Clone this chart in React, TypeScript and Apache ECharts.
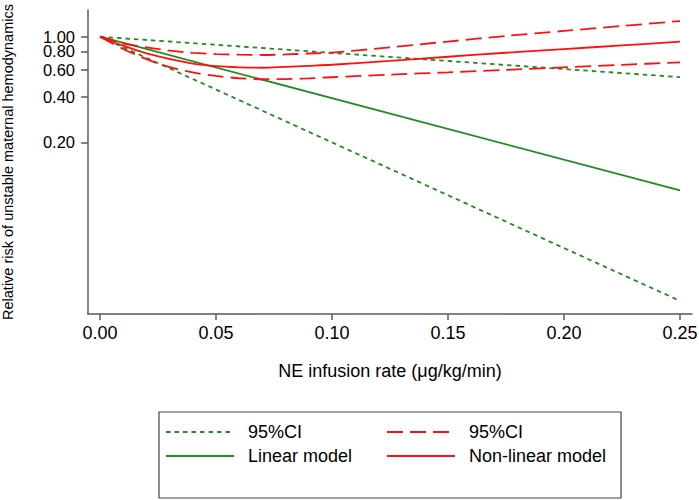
import React, { useEffect, useRef } from "react";
import * as echarts from "echarts";

// ---- data ----
const xTicks = [0, 0.05, 0.1, 0.15, 0.2, 0.25];
const yTicksMain = [0.2, 0.4, 0.6, 1.0];
const yTicksExtra = [0.8];

// linear model (straight on the log scale)
const linX = [0, 0.25];
const linRR = [1, 0.096];
const linLower = [1, 0.0178];
const linUpper = [1, 0.54];

// non-linear model
const nlX = [0, 0.01, 0.02, 0.03, 0.04, 0.05, 0.06, 0.07, 0.08, 0.09, 0.1, 0.125, 0.15, 0.175, 0.2, 0.225, 0.25];
const nlRR = [1, 0.872, 0.775, 0.712, 0.663, 0.638, 0.627, 0.623, 0.631, 0.641, 0.652, 0.692, 0.737, 0.783, 0.828, 0.876, 0.927];
const nlUpper = [1, 0.904, 0.85, 0.81, 0.781, 0.768, 0.76, 0.757, 0.763, 0.774, 0.785, 0.851, 0.929, 1.012, 1.092, 1.178, 1.27];
const nlLower = [1, 0.83, 0.71, 0.628, 0.58, 0.55, 0.531, 0.523, 0.524, 0.53, 0.539, 0.561, 0.581, 0.603, 0.627, 0.651, 0.677];

const yMinValue = 0.01458;
const yMaxValue = 1.503;
const xMin = -0.00517;
const xMax = 0.25517;

const GREEN = "#228b22";
const RED = "#ff1010";
const AXIS = "#5a5a5a";
const FONT = "Liberation Sans, Arial, Helvetica, sans-serif";

const toPts = (xs: number[], ys: number[]) => xs.map((x, i) => [x, Math.log10(ys[i])]);

export default function App() {
  const ref = useRef<HTMLDivElement>(null);
  useEffect(() => {
    if (!ref.current) return;
    const chart = echarts.init(ref.current, null, { renderer: "svg" });
    const lineSeries = (name: string, xs: number[], ys: number[], color: string, type: any, smooth: boolean) => ({
      name,
      type: "line",
      data: toPts(xs, ys),
      symbol: "none",
      smooth: smooth ? 0.3 : false,
      lineStyle: { color, width: 1.8, type },
      itemStyle: { color },
      silent: true,
    });
    const legendBase = {
      orient: "vertical",
      top: 423,
      itemWidth: 68,
      itemHeight: 18,
      itemGap: 6,
      padding: 0,
      selectedMode: false,
      itemStyle: { opacity: 0 },
      formatter: (n: string) => (n.indexOf("95%CI") === 0 ? "95%CI" : n),
      textStyle: { fontSize: 18, fontFamily: FONT, color: "#000", padding: [0, 0, 0, 9] },
    };
    const yLabelBase = {
      margin: 13,
      fontSize: 16.5,
      lineHeight: 13,
      fontFamily: FONT,
      color: "#000",
      hideOverlap: false,
      formatter: (v: number) => Math.pow(10, v).toFixed(2),
    };
    const mainLog = yTicksMain.map((v) => Math.log10(v));
    const extraLog = yTicksExtra.map((v) => Math.log10(v));
    chart.setOption({
      animation: false,
      backgroundColor: "#fff",
      grid: { left: 88, right: 7, top: 10, bottom: 186, containLabel: false, outerBoundsMode: "none" },
      xAxis: {
        type: "value",
        min: xMin,
        max: xMax,
        name: "NE infusion rate (μg/kg/min)",
        nameLocation: "middle",
        nameGap: 48,
        nameTextStyle: { fontSize: 18, fontFamily: FONT, color: "#000" },
        axisLine: { show: true, onZero: false, lineStyle: { color: AXIS, width: 1.5 } },
        axisTick: { show: true, length: 6, customValues: xTicks, lineStyle: { color: AXIS, width: 1.5 } },
        axisLabel: {
          customValues: xTicks,
          margin: 10,
          fontSize: 18,
          fontFamily: FONT,
          color: "#000",
          hideOverlap: false,
          formatter: (v: number) => v.toFixed(2),
        },
        splitLine: { show: false },
      },
      yAxis: [
        {
          type: "value",
          position: "left",
          min: Math.log10(yMinValue),
          max: Math.log10(yMaxValue),
          name: "Relative risk of unstable maternal hemodynamics",
          nameLocation: "middle",
          nameGap: 73,
          nameTextStyle: { fontSize: 14.5, fontFamily: FONT, color: "#000" },
          axisLine: { show: true, onZero: false, lineStyle: { color: AXIS, width: 1.5 } },
          axisTick: { show: true, length: 7, customValues: mainLog, lineStyle: { color: AXIS, width: 1.5 } },
          axisLabel: { ...yLabelBase, customValues: mainLog },
          splitLine: { show: false },
        },
        {
          type: "value",
          position: "left",
          offset: 0,
          min: Math.log10(yMinValue),
          max: Math.log10(yMaxValue),
          axisLine: { show: false, onZero: false },
          axisTick: { show: true, length: 7, customValues: extraLog, lineStyle: { color: AXIS, width: 1.5 } },
          axisLabel: { ...yLabelBase, customValues: extraLog },
          splitLine: { show: false },
        },
      ],
      legend: [
        { ...legendBase, left: 165, data: ["95%CI (linear)", "Linear model"] },
        { ...legendBase, left: 386, data: ["95%CI (non-linear)", "Non-linear model"] },
      ],
      graphic: [
        {
          type: "rect",
          shape: { x: 159, y: 412, width: 462, height: 86 },
          style: { fill: "none", stroke: "#444", lineWidth: 1.2 },
          silent: true,
        },
      ],
      series: [
        lineSeries("95%CI (linear)", linX, linUpper, GREEN, [4.5, 4], false),
        lineSeries("95%CI (linear)", linX, linLower, GREEN, [4.5, 4], false),
        lineSeries("Linear model", linX, linRR, GREEN, "solid", false),
        lineSeries("95%CI (non-linear)", nlX, nlUpper, RED, [16, 7], true),
        lineSeries("95%CI (non-linear)", nlX, nlLower, RED, [16, 7], true),
        lineSeries("Non-linear model", nlX, nlRR, RED, "solid", true),
      ],
    });
    return () => chart.dispose();
  }, []);
  return (
    <div
      ref={ref}
      style={{ position: "fixed", left: 0, top: 0, width: 699, height: 500 }}
    />
  );
}
